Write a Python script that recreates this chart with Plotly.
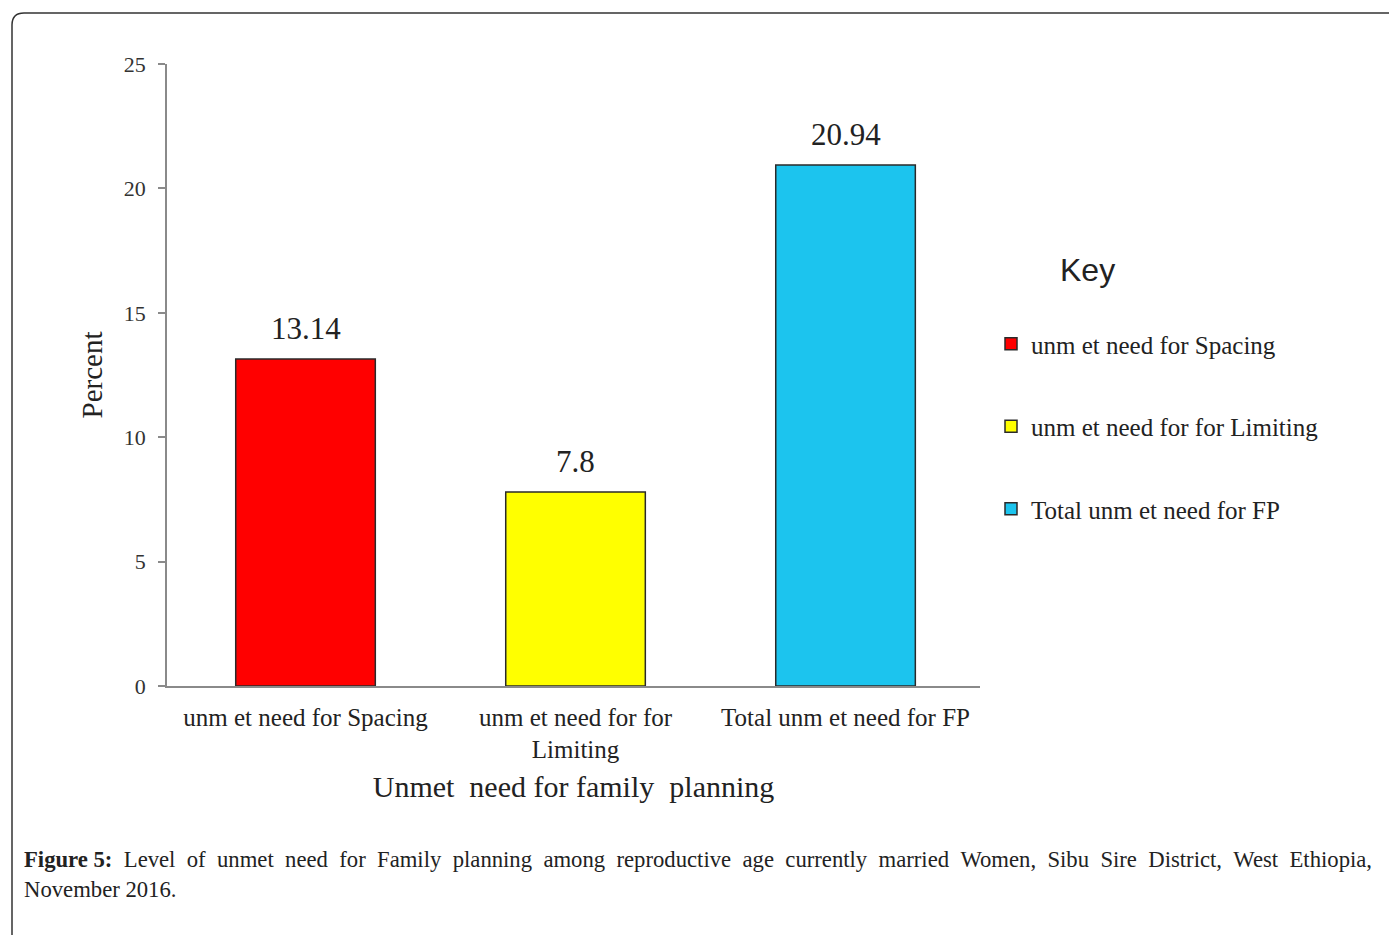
import plotly.graph_objects as go

# Chart data
categories = ["unm et need for Spacing", "unm et need for for<br>Limiting", "Total unm et need for FP"]
legend_names = ["unm et need for Spacing", "unm et need for for Limiting", "Total unm et need for FP"]
values = [13.14, 7.8, 20.94]
value_labels = ["13.14", "7.8", "20.94"]
bar_colors = ["#FF0000", "#FFFF00", "#1CC4EE"]
y_ticks = [0, 5, 10, 15, 20, 25]

SERIF = "Liberation Serif, Times New Roman, serif"
SANS = "Liberation Sans, Arial, sans-serif"

# Plot-area geometry in pixels (used to convert pixel positions to paper coords)
W, H = 1389, 935
L, R, T, B = 167, 980, 64, 686


def px_x(px):
    return (px - L) / (R - L)


def px_y(py):
    return (B - py) / (B - T)


fig = go.Figure()
for i, (cat, name, val, col) in enumerate(zip(categories, legend_names, values, bar_colors)):
    fig.add_trace(go.Bar(
        x=[cat], y=[val], name=name,
        marker=dict(color=col, line=dict(color="#2a2a2a", width=1.5)),
        width=0.517,
        legendgroup=f"g{i}",
        hoverinfo="x+y",
    ))
    fig.add_annotation(
        x=cat, y=val, text=value_labels[i], showarrow=False,
        xref="x", yref="y", yanchor="bottom", yshift=11,
        font=dict(family=SERIF, size=31, color="#222"),
    )

# Legend heading
fig.add_annotation(
    x=px_x(1087), y=px_y(270), xref="paper", yref="paper",
    text="Key", showarrow=False, xanchor="center", yanchor="middle",
    font=dict(family=SANS, size=32, color="#222"),
)

# Figure caption (line 1 spread out to the full text width)
line1_words = ("<b>Figure\u00a05:</b> Level of unmet need for Family planning among reproductive age "
               "currently married Women, Sibu Sire District, West Ethiopia,").split(" ")
line1 = " \u00a0".join(line1_words)
fig.add_annotation(
    x=px_x(22), y=px_y(845), xref="paper", yref="paper",
    xanchor="left", yanchor="top", align="left", showarrow=False,
    text=line1 + "<br>November 2016.",
    font=dict(family=SERIF, size=22.7, color="#222"),
)

# Rounded frame around the figure (top and left edges visible)
lx, ty = px_x(12), px_y(13)
rx, by = px_x(1420), px_y(960)
dx, dy = 12 / (R - L), 12 / (B - T)
fig.add_shape(
    type="path", xref="paper", yref="paper",
    path=f"M {lx},{by} L {lx},{ty - dy} Q {lx},{ty} {lx + dx},{ty} L {rx},{ty}",
    line=dict(color="#333", width=1.5),
)

fig.update_layout(
    width=W, height=H,
    margin=dict(l=L, r=W - R, t=T, b=H - B),
    paper_bgcolor="white", plot_bgcolor="white",
    barmode="overlay",
    showlegend=True,
    legend=dict(
        x=px_x(991), y=px_y(321), xanchor="left", yanchor="top",
        font=dict(family=SERIF, size=25, color="#222"),
        tracegroupgap=47, bgcolor="rgba(0,0,0,0)",
        itemwidth=30,
    ),
    xaxis=dict(
        range=[-0.513, 2.498],
        showline=True, linecolor="#8a8a8a", linewidth=1.5,
        ticks="", showgrid=False,
        tickfont=dict(family=SERIF, size=25, color="#222"),
        title=dict(text="Unmet  need for family  planning",
                   font=dict(family=SERIF, size=30, color="#222"), standoff=14),
        ticklabelstandoff=8,
    ),
    yaxis=dict(
        range=[0, 25], tickvals=y_ticks,
        showline=True, linecolor="#8a8a8a", linewidth=1.5,
        ticks="outside", ticklen=7, tickcolor="#8a8a8a", tickwidth=1.5,
        showgrid=False, zeroline=False,
        tickfont=dict(family=SERIF, size=22, color="#333"),
        title=dict(text="Percent", font=dict(family=SERIF, size=29, color="#222"), standoff=13),
        ticklabelstandoff=8,
    ),
)

fig.write_html("out.html")
